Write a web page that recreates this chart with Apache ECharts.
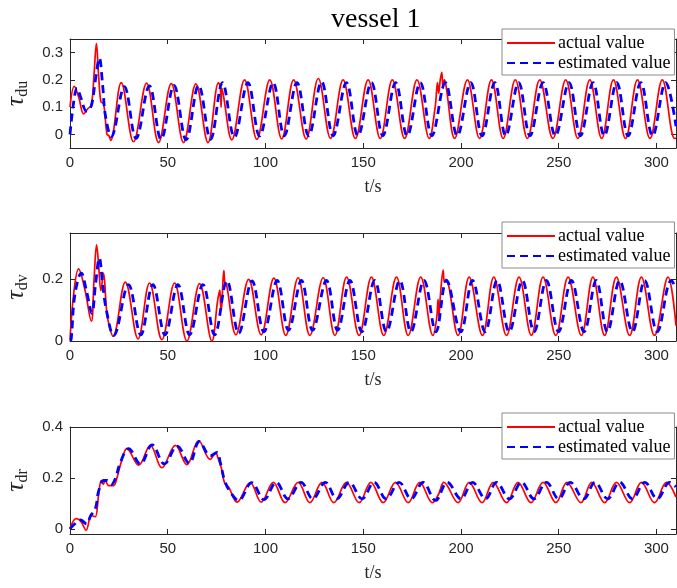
<!DOCTYPE html>
<html>
<head>
<meta charset="utf-8">
<script src="https://cdn.jsdelivr.net/npm/echarts@6/dist/echarts.min.js"></script>
<style>
html,body{margin:0;padding:0;background:#fff;}
#c{width:677px;height:588px;}
</style>
</head>
<body>
<div id="c"></div>
<script>
const xTicks = [0, 50, 100, 150, 200, 250, 300];
const seriesNames = ['actual value', 'estimated value'];
const titleText = 'vessel 1';
const yNames = ['du', 'dv', 'dr'];
const yTicks1 = [0, 0.1, 0.2, 0.3];
const yTicks2 = [0, 0.2];
const yTicks3 = [0, 0.2, 0.4];

const duActual = [[0,0.100],[2.2,0.176],[4.5,0.135],[7.0,0.075],[9.2,0.095],[10.9,0.106],[12.3,0.22],[13.5,0.333],[14.6,0.22],[15.8,0.12],[17.2,0.112],[18.9,0.000],[19.9,-0.005],[20.8,-0.022],[26.2,0.190],[32.5,-0.027],[39.2,0.188],[45.3,-0.030],[51.8,0.186],[58.1,-0.030],[64.4,0.185],[70.6,-0.030],[76.0,0.190],[76.9,0.170],[77.3,0.100],[77.6,0.170],[78.3,0.150],[82.8,-0.020],[89.3,0.200],[95.6,-0.018],[102.2,0.200],[108.3,-0.017],[114.4,0.200],[120.8,-0.017],[127.0,0.205],[133.3,-0.015],[139.7,0.200],[146.0,-0.015],[152.5,0.200],[158.7,-0.015],[164.9,0.200],[171.2,-0.015],[177.5,0.200],[183.8,-0.015],[186.8,0.100],[188.0,0.190],[188.6,0.150],[189.4,0.200],[190.2,0.228],[190.8,0.170],[191.5,0.200],[192.2,0.185],[196.8,-0.015],[203.3,0.200],[209.5,-0.015],[215.6,0.200],[221.6,-0.015],[227.8,0.200],[234.0,-0.015],[240.3,0.200],[247.0,-0.015],[253.6,0.200],[259.8,-0.015],[265.9,0.200],[272.0,-0.015],[278.0,0.200],[284.2,-0.015],[290.3,0.200],[296.7,-0.015],[303.0,0.200],[309.3,-0.015],[310,-0.013]];

const duEstimated = [[0,0.000],[1.9,0.120],[3.6,0.170],[5.3,0.140],[8.5,0.085],[10.9,0.105],[12.9,0.195],[15.0,0.280],[16.7,0.180],[18.1,0.070],[21.1,-0.008],[27.8,0.175],[33.8,-0.015],[40.6,0.178],[46.6,-0.018],[53.2,0.180],[59.4,-0.020],[65.8,0.180],[71.9,-0.018],[78.0,0.190],[84.1,-0.010],[91.0,0.190],[97.0,-0.006],[103.9,0.190],[109.6,-0.005],[116.1,0.190],[122.1,-0.005],[128.7,0.193],[134.6,-0.005],[141.4,0.190],[147.3,-0.005],[154.2,0.190],[160.0,-0.005],[166.6,0.190],[172.5,-0.005],[179.2,0.190],[185.1,-0.005],[192.0,0.190],[198.1,-0.005],[205.0,0.190],[210.8,-0.005],[217.3,0.190],[222.9,-0.005],[229.5,0.190],[235.3,-0.005],[242.0,0.190],[248.3,-0.005],[255.3,0.190],[261.1,-0.005],[267.6,0.190],[273.3,-0.005],[279.7,0.190],[285.5,-0.005],[292.0,0.190],[298.0,-0.005],[304.7,0.190],[310,0.030]];

const dvActual = [[0,0.004],[2.0,0.160],[4.4,0.234],[7.5,0.170],[10.9,0.064],[12.3,0.200],[13.6,0.312],[14.6,0.250],[15.8,0.163],[17.1,0.220],[18.9,0.088],[20.5,0.040],[22.0,0.015],[28.3,0.191],[34.8,0.007],[40.7,0.188],[47.0,0.004],[53.5,0.188],[59.8,0.000],[66.3,0.186],[72.6,0.000],[75.5,0.130],[76.6,0.165],[77.0,0.120],[77.4,0.100],[78.3,0.200],[78.7,0.228],[79.2,0.190],[80.0,0.185],[84.9,0.020],[91.4,0.200],[97.8,0.020],[104.3,0.204],[110.4,0.018],[116.7,0.205],[122.7,0.018],[129.5,0.205],[135.5,0.018],[141.5,0.207],[147.9,0.018],[154.2,0.207],[160.5,0.018],[167.0,0.207],[173.0,0.018],[179.4,0.207],[185.7,0.018],[187.5,0.070],[188.3,0.135],[188.7,0.080],[189.5,0.150],[190.9,0.230],[191.5,0.190],[192.3,0.200],[198.5,0.018],[204.2,0.207],[211.0,0.018],[216.8,0.207],[223.3,0.018],[229.7,0.207],[236.0,0.018],[242.0,0.207],[248.5,0.018],[254.8,0.207],[261.6,0.018],[267.5,0.207],[273.5,0.018],[279.5,0.207],[286.3,0.018],[292.3,0.207],[299.0,0.018],[305.9,0.207],[310,0.050]];

const dvEstimated = [[0,0.000],[0.6,0.005],[2.5,0.150],[5.8,0.220],[8.5,0.160],[11.2,0.090],[13.0,0.180],[15.0,0.269],[16.8,0.180],[18.6,0.100],[22.3,0.018],[29.9,0.183],[36.2,0.020],[42.4,0.183],[48.6,0.020],[55.2,0.183],[61.2,0.020],[68.0,0.183],[74.0,0.020],[80.3,0.195],[86.3,0.025],[93.1,0.195],[99.2,0.030],[106.0,0.196],[111.8,0.035],[118.4,0.196],[124.1,0.035],[131.2,0.196],[136.9,0.035],[143.2,0.196],[149.3,0.030],[155.9,0.196],[161.9,0.030],[168.7,0.196],[174.4,0.030],[181.1,0.196],[187.2,0.030],[192.6,0.196],[199.9,0.030],[205.9,0.196],[212.4,0.030],[218.5,0.196],[224.7,0.030],[231.4,0.196],[237.4,0.030],[243.7,0.196],[249.9,0.030],[256.5,0.196],[263.0,0.030],[269.2,0.196],[274.9,0.030],[281.2,0.196],[287.7,0.030],[294.0,0.196],[300.4,0.030],[307.6,0.196],[310,0.170]];

const drActual = [[0,0.000],[3.1,0.040],[5.5,0.030],[8.2,-0.005],[10.9,0.060],[11.8,0.050],[13.0,0.048],[14.7,0.138],[16.0,0.190],[17.0,0.175],[18.0,0.190],[19.8,0.170],[22.3,0.170],[24.0,0.200],[26.5,0.270],[29.1,0.315],[35.1,0.250],[41.1,0.328],[47.0,0.240],[53.9,0.328],[59.8,0.252],[65.8,0.346],[71.7,0.273],[74.6,0.300],[75.6,0.280],[77.4,0.240],[79.1,0.180],[81.1,0.165],[85.4,0.105],[92.2,0.182],[97.8,0.105],[104.0,0.183],[110.0,0.103],[116.7,0.183],[122.7,0.103],[128.9,0.183],[135.0,0.103],[141.4,0.183],[147.9,0.103],[153.9,0.183],[160.2,0.103],[166.5,0.183],[173.0,0.103],[178.9,0.183],[185.4,0.103],[188.8,0.140],[189.2,0.150],[191.2,0.183],[198.5,0.103],[204.2,0.183],[210.8,0.103],[216.5,0.183],[223.3,0.103],[229.2,0.183],[235.8,0.103],[242.0,0.183],[248.6,0.103],[254.2,0.183],[261.4,0.103],[266.9,0.183],[273.5,0.103],[279.5,0.183],[286.3,0.103],[292.3,0.183],[299.0,0.103],[305.1,0.183],[310,0.125]];

const drEstimated = [[0,0.000],[2.5,0.020],[5.3,0.035],[8.5,0.020],[10.5,0.050],[13.0,0.080],[14.7,0.150],[17.2,0.190],[19.0,0.190],[21.2,0.175],[23.3,0.200],[25.7,0.260],[30.0,0.315],[36.0,0.255],[42.0,0.330],[48.3,0.255],[54.8,0.325],[61.0,0.258],[66.2,0.343],[71.8,0.287],[75.2,0.300],[76.9,0.260],[79.1,0.190],[82.0,0.145],[86.2,0.112],[93.0,0.182],[99.2,0.115],[105.5,0.183],[111.5,0.118],[118.2,0.183],[124.2,0.118],[130.6,0.183],[136.5,0.118],[142.9,0.183],[149.4,0.118],[155.6,0.183],[161.7,0.118],[168.4,0.183],[174.5,0.118],[180.6,0.183],[187.0,0.112],[193.0,0.183],[200.0,0.118],[205.9,0.183],[212.6,0.118],[218.2,0.183],[224.8,0.118],[231.0,0.183],[237.3,0.118],[243.7,0.183],[250.0,0.118],[255.9,0.183],[262.8,0.118],[268.6,0.183],[275.0,0.118],[281.2,0.183],[287.7,0.118],[294.0,0.183],[300.4,0.118],[306.8,0.183],[310,0.165]];

// layout (not data)
const panels = [
  {act: duActual, est: duEstimated, ymin: -0.05, ymax: 0.35, ticks: yTicks1, sub: yNames[0], top: 39, height: 109, legendTop: 29},
  {act: dvActual, est: dvEstimated, ymin: 0, ymax: 0.35, ticks: yTicks2, sub: yNames[1], top: 233, height: 108, legendTop: 222},
  {act: drActual, est: drEstimated, ymin: -0.02, ymax: 0.4, ticks: yTicks3, sub: yNames[2], top: 427, height: 107, legendTop: 413}
];

const axisColor = '#262626';
const tickFont = {fontFamily: 'Liberation Sans', fontSize: 15, color: axisColor};
const serif = 'Liberation Serif';

const grid = [], xAxis = [], yAxis = [], series = [], legend = [];
panels.forEach((p, i) => {
  grid.push({left: 70, right: 1, top: p.top, height: p.height, containLabel: false, outerBoundsMode: 'none'});
  const xBase = {
    gridIndex: i, type: 'value', min: 0, max: 310, interval: 50,
    axisLine: {show: true, onZero: false, lineStyle: {color: axisColor, width: 1}},
    axisTick: {show: true, inside: true, length: 5, lineStyle: {color: axisColor}, customValues: xTicks},
    splitLine: {show: false}
  };
  xAxis.push(Object.assign({}, xBase, {
    position: 'bottom',
    axisLabel: Object.assign({show: true, margin: 7, customValues: xTicks}, tickFont),
    name: 't/s', nameLocation: 'middle', nameGap: 30,
    nameTextStyle: {fontFamily: serif, fontSize: 18, color: axisColor}
  }));
  xAxis.push(Object.assign({}, xBase, {position: 'top', axisLabel: {show: false}}));
  const yBase = {
    gridIndex: i, type: 'value', min: p.ymin, max: p.ymax,
    axisLine: {show: true, onZero: false, lineStyle: {color: axisColor, width: 1}},
    axisTick: {show: true, inside: true, length: 5, lineStyle: {color: axisColor}, customValues: p.ticks},
    splitLine: {show: false}
  };
  yAxis.push(Object.assign({}, yBase, {
    position: 'left',
    axisLabel: Object.assign({show: true, margin: 7, customValues: p.ticks}, tickFont),
    name: '{t|τ}{s|' + p.sub + '}', nameLocation: 'middle', nameGap: 34, nameRotate: 90,
    nameTextStyle: {
      rich: {
        t: {fontFamily: serif, fontSize: 26, fontStyle: 'italic', color: axisColor},
        s: {fontFamily: serif, fontSize: 16, color: axisColor, padding: [14, 0, 0, 0]}
      }
    }
  }));
  yAxis.push(Object.assign({}, yBase, {position: 'right', axisLabel: {show: false}}));
  series.push({
    name: seriesNames[0], type: 'line', xAxisIndex: 2 * i, yAxisIndex: 2 * i,
    data: p.act, showSymbol: false, symbol: 'none', smooth: 0.38, clip: true,
    lineStyle: {color: '#ff0000', width: 1.7}, itemStyle: {color: '#ff0000'}, z: 2
  });
  series.push({
    name: seriesNames[1], type: 'line', xAxisIndex: 2 * i, yAxisIndex: 2 * i,
    data: p.est, showSymbol: false, symbol: 'none', smooth: 0.38, clip: true,
    lineStyle: {color: '#0000ff', width: 2.8, type: [8, 5]}, itemStyle: {color: '#0000ff'}, z: 3
  });
  legend.push({
    data: seriesNames, left: 502, top: p.legendTop, orient: 'vertical',
    itemWidth: 48, itemHeight: 12, itemGap: 0,
    itemStyle: {opacity: 0},
    backgroundColor: '#ffffff', borderColor: '#8c8c8c', borderWidth: 1, borderRadius: 0,
    padding: [4, 4, 2, 4], selectedMode: false,
    textStyle: {fontFamily: serif, fontSize: 18, color: '#000', lineHeight: 20, padding: [0, 0, 0, -2]}
  });
});

const chart = echarts.init(document.getElementById('c'), null, {renderer: 'canvas'});
chart.setOption({
  animation: false,
  backgroundColor: '#ffffff',
  title: {text: titleText, left: 331, top: 6, padding: 0,
    textStyle: {fontFamily: serif, fontSize: 28, fontWeight: 'normal', color: '#000'}},
  grid, xAxis, yAxis, series, legend
});
</script>
</body>
</html>
